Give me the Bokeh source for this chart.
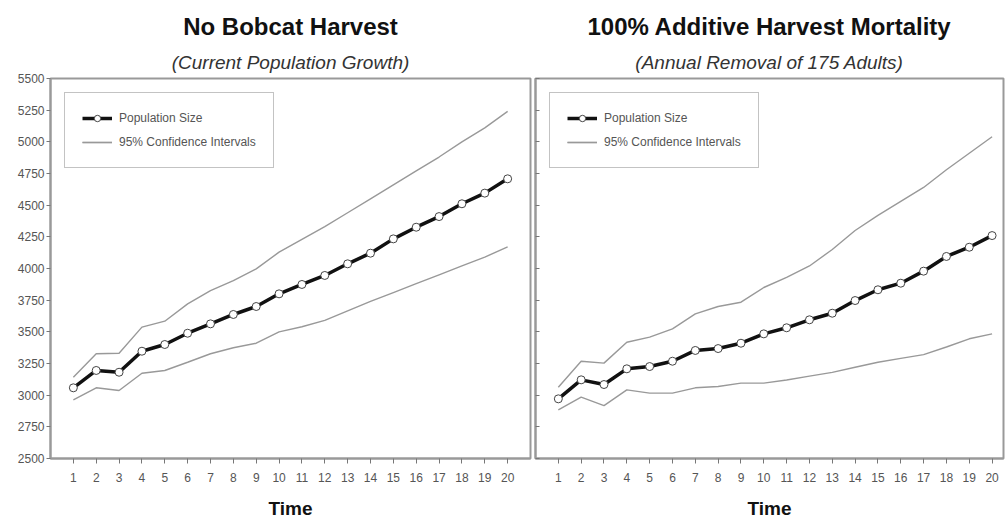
from bokeh.plotting import figure
from bokeh.models import (Title, Legend, LegendItem, FixedTicker, Range1d,
                          CustomJSTickFormatter)
from bokeh.layouts import row
from bokeh.embed import file_html
from bokeh.resources import INLINE

time = list(range(1, 21))

left_pop = [3058, 3195, 3181, 3347, 3400, 3489, 3563, 3637, 3700, 3800,
            3874, 3945, 4037, 4121, 4234, 4326, 4410, 4511, 4595, 4708]
left_upper = [3142, 3327, 3331, 3537, 3584, 3721, 3826, 3905, 3997, 4129,
              4230, 4330, 4440, 4550, 4660, 4770, 4880, 5000, 5110, 5240]
left_lower = [2963, 3058, 3037, 3173, 3195, 3260, 3327, 3374, 3410, 3500,
              3540, 3590, 3665, 3740, 3810, 3880, 3950, 4020, 4090, 4170]

right_pop = [2971, 3121, 3084, 3208, 3226, 3268, 3353, 3368, 3410, 3484,
             3532, 3595, 3647, 3747, 3832, 3884, 3979, 4095, 4168, 4260]
right_upper = [3063, 3268, 3253, 3418, 3458, 3524, 3642, 3700, 3734, 3850,
               3930, 4020, 4150, 4300, 4420, 4530, 4640, 4780, 4910, 5040]
right_lower = [2884, 2984, 2918, 3042, 3016, 3016, 3058, 3068, 3095, 3095,
               3120, 3150, 3180, 3220, 3260, 3290, 3320, 3380, 3445, 3484]

y_ticks = list(range(2500, 5501, 250))

titles = ["No Bobcat Harvest", "100% Additive Harvest Mortality"]
subtitles = ["(Current Population Growth)", "(Annual Removal of 175 Adults)"]
x_label = "Time"
legend_labels = ["Population Size", "95% Confidence Intervals"]

FONT = "Liberation Sans"
GREY = "#999999"


def make_panel(pop, upper, lower, title, subtitle, width, x_end, left_border,
               right_border, show_ylabels):
    p = figure(width=width, height=522, output_backend="svg", toolbar_location=None,
               x_range=Range1d(0, x_end), y_range=Range1d(2500, 5500),
               min_border_left=left_border, min_border_right=right_border,
               min_border_top=78, min_border_bottom=64)
    p.background_fill_color = "white"
    p.border_fill_color = "white"
    p.outline_line_color = GREY
    p.outline_line_width = 2
    p.xgrid.visible = False
    p.ygrid.visible = False

    sub = Title(text=subtitle, align="center", text_font=FONT, text_font_size="19px",
                text_font_style="italic", text_color="#333333", standoff=11)
    p.add_layout(sub, "above")
    main = Title(text=title, align="center", text_font=FONT, text_font_size="24px",
                 text_font_style="bold", text_color="#111111", standoff=9)
    p.add_layout(main, "above")

    xa = p.xaxis[0]
    xa.ticker = FixedTicker(ticks=time)
    xa.axis_line_color = GREY
    xa.axis_line_width = 2
    xa.major_tick_line_color = "#777777"
    xa.major_tick_out = 5
    xa.major_tick_in = 0
    xa.minor_tick_line_color = None
    xa.major_label_text_font = FONT
    xa.major_label_text_font_size = "12px"
    xa.major_label_text_color = "#555555"
    xa.major_label_standoff = 9
    xa.axis_label = x_label
    xa.axis_label_text_font = FONT
    xa.axis_label_text_font_size = "19px"
    xa.axis_label_text_font_style = "bold"
    xa.axis_label_text_color = "#111111"
    xa.axis_label_standoff = 13

    ya = p.yaxis[0]
    ya.ticker = FixedTicker(ticks=y_ticks)
    ya.axis_line_color = GREY
    ya.axis_line_width = 2
    ya.major_tick_line_color = "#777777"
    ya.minor_tick_line_color = None
    if show_ylabels:
        ya.major_tick_out = 4
        ya.major_tick_in = 0
        ya.major_label_text_font = FONT
        ya.major_label_text_font_size = "12px"
        ya.major_label_text_color = "#555555"
        ya.major_label_standoff = 2
    else:
        ya.major_tick_out = 0
        ya.major_tick_in = 4
        ya.formatter = CustomJSTickFormatter(code="return '';")
        ya.major_label_standoff = 0

    r_up = p.line(time, upper, line_color=GREY, line_width=1.4)
    r_lo = p.line(time, lower, line_color=GREY, line_width=1.4)
    r_pop = p.line(time, pop, line_color="#111111", line_width=3.5)
    r_pts = p.scatter(time, pop, marker="circle", size=8, fill_color="white",
                      line_color="#444444", line_width=1)

    legend = Legend(items=[
        LegendItem(label=legend_labels[0], renderers=[r_pop, r_pts]),
        LegendItem(label=legend_labels[1], renderers=[r_up, r_lo]),
    ], location="top_left")
    legend.margin = 14
    legend.padding = 17
    legend.spacing = 8
    legend.glyph_width = 30
    legend.glyph_height = 16
    legend.label_height = 16
    legend.label_standoff = 7
    legend.label_text_font = FONT
    legend.label_text_font_size = "12px"
    legend.label_text_color = "#555555"
    legend.border_line_color = "#888888"
    legend.border_line_width = 1.5
    legend.background_fill_color = "white"
    p.add_layout(legend, "center")
    return p


left = make_panel(left_pop, left_upper, left_lower, titles[0], subtitles[0],
                  533, 21, 50, 3, True)
right = make_panel(right_pop, right_upper, right_lower, titles[1], subtitles[1],
                   473, 20.5, 2, 3, False)

layout = row(left, right)
open("out.html", "w").write(file_html(layout, INLINE))
